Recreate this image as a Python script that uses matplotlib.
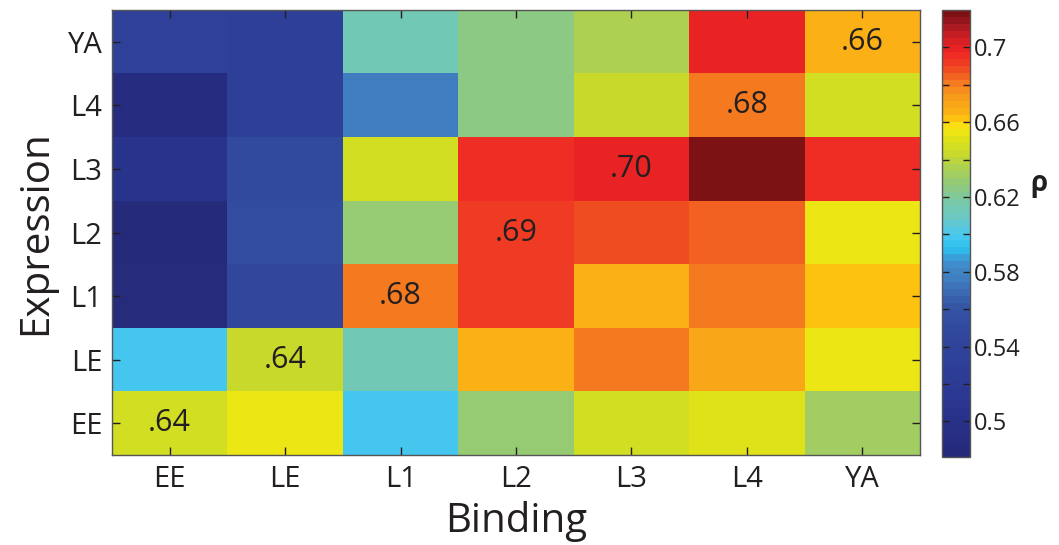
import numpy as np
import matplotlib
matplotlib.use('Agg')
import matplotlib.pyplot as plt
from matplotlib.colors import LinearSegmentedColormap

plt.rcParams['font.family'] = ['Open Sans', 'DejaVu Sans']

# columns = binding stage, rows = expression stage (top to bottom)
binding = ['EE', 'LE', 'L1', 'L2', 'L3', 'L4', 'YA']
expression = ['YA', 'L4', 'L3', 'L2', 'L1', 'LE', 'EE']

rho = np.array([
    [0.535, 0.530, 0.612, 0.623, 0.636, 0.701, 0.664],   # YA
    [0.490, 0.530, 0.578, 0.623, 0.643, 0.681, 0.647],   # L4
    [0.505, 0.550, 0.647, 0.697, 0.700, 0.720, 0.696],   # L3
    [0.483, 0.553, 0.627, 0.692, 0.687, 0.685, 0.656],   # L2
    [0.485, 0.548, 0.681, 0.693, 0.667, 0.680, 0.663],   # L1
    [0.597, 0.643, 0.612, 0.667, 0.679, 0.668, 0.655],   # LE
    [0.646, 0.655, 0.598, 0.627, 0.647, 0.652, 0.633],   # EE
])

# labels written on the matching-stage cells (row by row, top to bottom)
diag_labels = ['.66', '.68', '.70', '.69', '.68', '.64', '.64']

vmin, vmax = 0.481, 0.72

# colormap
cm_vals = [0.481, 0.50, 0.52, 0.54, 0.56, 0.575, 0.585, 0.592, 0.600, 0.610,
           0.617, 0.625, 0.635, 0.643, 0.648, 0.653, 0.658, 0.662, 0.667,
           0.675, 0.681, 0.687, 0.693, 0.700, 0.708, 0.714, 0.720]
cm_cols = ['#262a7a', '#283189', '#2d3c95', '#2f4399', '#3553a4', '#3f7cbf',
           '#3f90cf', '#2bc0ee', '#4ac8ef', '#6cc8c0', '#76c9ad', '#8cc985',
           '#a9cf58', '#c6d830', '#d3df22', '#e4e316', '#f5e913', '#fec60f',
           '#fbb116', '#f89a1c', '#f7821f', '#f15a22', '#f03c24', '#ee2424',
           '#c81e24', '#a01820', '#7d1214']
pos = [(v - vmin) / (vmax - vmin) for v in cm_vals]
cmap = LinearSegmentedColormap.from_list('rho', list(zip(pos, cm_cols)), N=64)

fig = plt.figure(figsize=(10.59, 5.45), dpi=100)
ax = fig.add_axes([112/1059, 90/545, 808/1059, 445/545])
im = ax.imshow(rho, cmap=cmap, vmin=vmin, vmax=vmax, aspect='auto',
               interpolation='nearest')

txt = '#231f20'
n = len(binding)
for i, lab in enumerate(diag_labels):
    ax.text(n - 1 - i, i, lab, ha='center', va='center', fontsize=22, color=txt)

ax.set_xticks(range(n))
ax.set_xticklabels(binding)
ax.set_yticks(range(len(expression)))
ax.set_yticklabels(expression)
ax.tick_params(direction='in', length=6, width=1, top=True, right=True,
               labelsize=21, colors=txt, pad=7)
ax.set_xlabel('Binding', fontsize=29, color=txt, labelpad=5)
ax.set_ylabel('Expression', fontsize=29, color=txt, labelpad=8)
for s in ax.spines.values():
    s.set_color('#555555')
    s.set_linewidth(1)

cax = fig.add_axes([942/1059, 88/545, 28/1059, 447/545])
cb = fig.colorbar(im, cax=cax)
cb_ticks = [0.50, 0.52, 0.54, 0.56, 0.58, 0.60, 0.62, 0.64, 0.66, 0.68, 0.70]
cb_labels = ['0.5', '', '0.54', '', '0.58', '', '0.62', '', '0.66', '', '0.7']
cb.set_ticks(cb_ticks)
cb.set_ticklabels(cb_labels)
cax.tick_params(direction='in', length=5, width=1, left=True, right=True,
                labelsize=17, colors=txt, pad=3)
cb.outline.set_edgecolor('#555555')
cb.outline.set_linewidth(1)
fig.text(1039/1059, 1 - 183/545, 'ρ', fontsize=20, fontweight='bold',
         ha='center', va='center', color=txt)

fig.savefig('out.png', dpi=100)
